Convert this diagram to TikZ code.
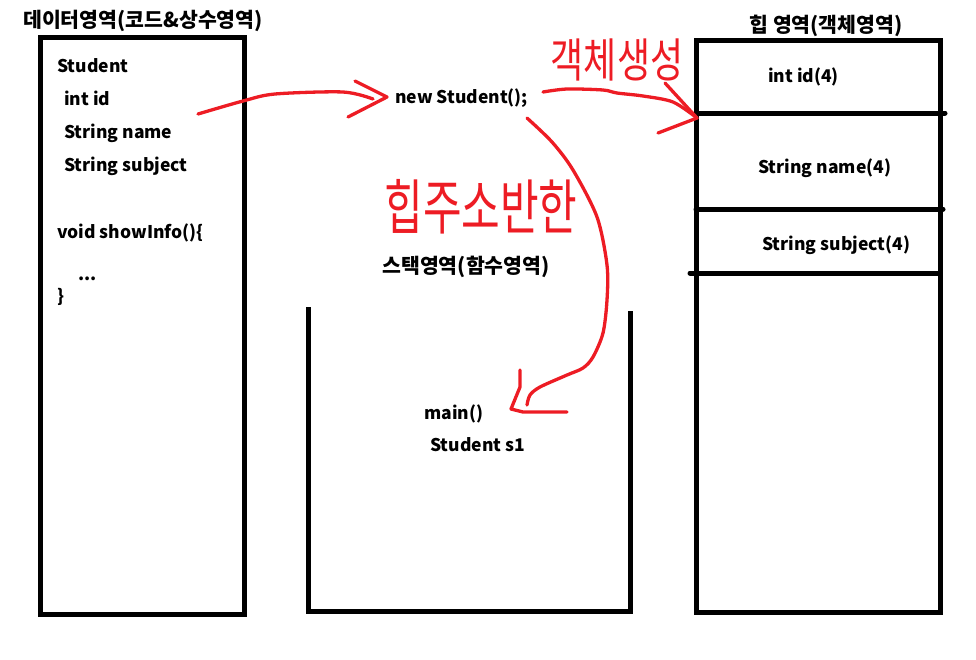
\documentclass[tikz,border=0pt]{standalone}
\usepackage{fontspec}
\setmainfont{Noto Sans CJK KR}
\definecolor{pred}{RGB}{237,28,36}
\begin{document}
\begin{tikzpicture}[x=1pt,y=-1pt,
  txt/.style={font=\bfseries\fontsize{17.5}{20}\selectfont, inner sep=0pt, anchor=base west},
  ttl/.style={font=\bfseries\fontsize{20.5}{24}\selectfont, inner sep=0pt, anchor=base},
  hand/.style={draw=pred, line width=3.3pt, line cap=round, line join=round},
  handtxt/.style={text=pred, inner sep=0pt, font=\fontsize{36}{40}\selectfont, yscale=1.3},
  wall/.style={draw=black, line width=5pt},
  boxn/.style={wall, inner sep=0pt}]
\useasboundingbox (0,0) rectangle (976,659);
% data area
\node[boxn, minimum width=204pt, minimum height=577pt] (data) at (142,325.5) {};
\node[ttl] (datat) at (143,27) {데이터영역(코드\&상수영역)};
\node[txt] (cls) at (57,72) {Student};
\node[txt] (fid) at (64,105) {int id};
\node[txt] (fname) at (64,138) {String name};
\node[txt] (fsubj) at (64,171) {String subject};
\node[txt] (meth) at (57,238) {void showInfo()\{};
\node[txt] (dots) at (78,280) {...};
\node[txt] (close) at (57,302) {\}};
% stack area
\coordinate (s1) at (308,307);
\coordinate (s2) at (308,611);
\coordinate (s3) at (630,611);
\coordinate (s4) at (630,311);
\draw[wall] (s1) -- (s2) -- (s3) -- (s4);
\node[ttl] (stackt) at (466,273) {스택영역(함수영역)};
\node[txt] (mainf) at (424,419) {main()};
\node[txt] (svar) at (430,451) {Student s1};
\node[txt] (newst) at (395,103) {new Student();};
% heap area
\node[boxn, minimum width=244pt, minimum height=572pt] (heap) at (818,326) {};
\node[ttl] (heapt) at (826,32) {힙 영역(객체영역)};
\coordinate (h1a) at (696,113); \coordinate (h1b) at (945,113);
\coordinate (h2a) at (696,209); \coordinate (h2b) at (943,209);
\coordinate (h3a) at (690,273); \coordinate (h3b) at (940,273);
\draw[wall, line cap=round] (h1a) -- (h1b);
\draw[wall, line cap=round] (h2a) -- (h2b);
\draw[wall, line cap=round] (h3a) -- (h3b);
\node[txt] (hid) at (768,82) {int id(4)};
\node[txt] (hname) at (758,173) {String name(4)};
\node[txt] (hsubj) at (762,250) {String subject(4)};
% red hand strokes
\node[handtxt] (lbl1) at (617,60) {객체생성};
\node[handtxt, font=\fontsize{42}{46}\selectfont, yscale=1.1] (lbl2) at (481,207) {힙주소반한};
\draw[hand] plot[smooth] coordinates {(198,114) (243,101) (275,94) (343,92) (373,99)};
\draw[hand] (355,81) -- (387,97) -- (348,117);
\draw[hand] plot[smooth] coordinates {(543,92) (567,89) (603,90) (617,93) (643,96) (673,102) (697,118)};
\draw[hand] (665,83) -- (697,118) -- (658,133);
\draw[hand] plot[smooth] coordinates {(527,118) (552,142) (573,170) (597,217) (607,265) (607,300) (603,333) (593,357) (583,368) (567,375) (540,387) (530,395) (527,405)};
\draw[hand] (520,370) -- (520,387) -- (511,409) -- (523,412) -- (567,412);
\end{tikzpicture}
\end{document}
